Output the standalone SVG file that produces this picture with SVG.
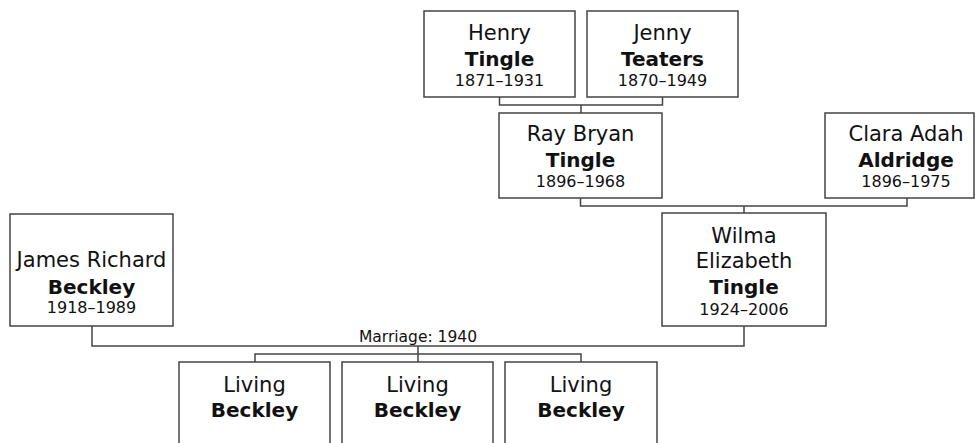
<svg xmlns="http://www.w3.org/2000/svg" width="975" height="443" viewBox="0 0 975 443">
<style>
.box{fill:#fff;stroke:#444;stroke-width:1.5}
.conn{fill:none;stroke:#444;stroke-width:1.5}
text{font-family:"DejaVu Sans",Verdana,sans-serif;fill:#111;text-anchor:middle}
.n{font-size:21px}
.b{font-size:20px;font-weight:bold}
.d{font-size:16px}
.lbl{font-size:15.5px}
</style>
<rect width="975" height="443" fill="#fff"/>
<g id="connectors">
<path class="conn" d="M499.5 97 V105 H662.5 V97 M581 105 V113"/>
<path class="conn" d="M580.5 198 V206 H907 V198 M744 206 V213"/>
<path class="conn" d="M92 326 V346 H744 V326"/>
<path class="conn" d="M418 346 V354 M255 362 V354 H581 V362 M418 354 V362"/>
<text class="lbl" x="418" y="342">Marriage: 1940</text>
</g>
<g id="henry">
<rect class="box" x="424" y="11" width="151" height="86"/>
<text class="n" x="499.5" y="40">Henry</text>
<text class="b" x="499.5" y="66">Tingle</text>
<text class="d" x="499.5" y="86">1871–1931</text>
</g>
<g id="jenny">
<rect class="box" x="587" y="11" width="151" height="86"/>
<text class="n" x="662.5" y="40">Jenny</text>
<text class="b" x="662.5" y="66">Teaters</text>
<text class="d" x="662.5" y="86">1870–1949</text>
</g>
<g id="ray">
<rect class="box" x="499" y="113" width="163" height="85"/>
<text class="n" x="580.5" y="141">Ray Bryan</text>
<text class="b" x="580.5" y="167">Tingle</text>
<text class="d" x="580.5" y="187">1896–1968</text>
</g>
<g id="clara">
<rect class="box" x="825" y="113" width="149" height="85"/>
<text class="n" x="906" y="141">Clara Adah</text>
<text class="b" x="906" y="167">Aldridge</text>
<text class="d" x="906" y="187">1896–1975</text>
</g>
<g id="wilma">
<rect class="box" x="662" y="213" width="164" height="113"/>
<text class="n" x="744" y="243">Wilma</text>
<text class="n" x="744" y="268">Elizabeth</text>
<text class="b" x="744" y="294">Tingle</text>
<text class="d" x="744" y="315">1924–2006</text>
</g>
<g id="james">
<rect class="box" x="10" y="214" width="163" height="112"/>
<text class="n" x="91.5" y="267">James Richard</text>
<text class="b" x="91.5" y="294">Beckley</text>
<text class="d" x="91.5" y="313">1918–1989</text>
</g>
<g id="child1">
<rect class="box" x="179" y="362" width="151" height="100"/>
<text class="n" x="254.5" y="392">Living</text>
<text class="b" x="254.5" y="417">Beckley</text>
</g>
<g id="child2">
<rect class="box" x="342" y="362" width="151" height="100"/>
<text class="n" x="417.5" y="392">Living</text>
<text class="b" x="417.5" y="417">Beckley</text>
</g>
<g id="child3">
<rect class="box" x="505" y="362" width="152" height="100"/>
<text class="n" x="581" y="392">Living</text>
<text class="b" x="581" y="417">Beckley</text>
</g>
</svg>
